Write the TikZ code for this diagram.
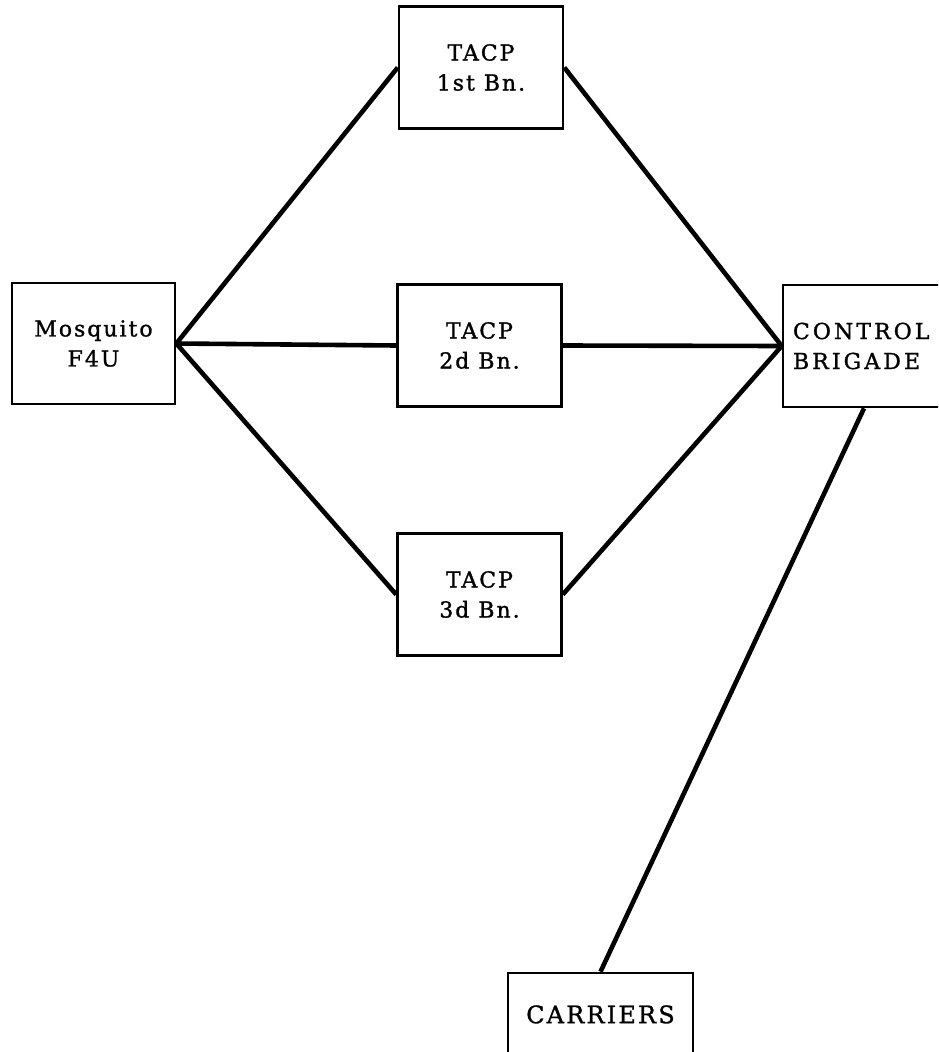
\documentclass[tikz,border=0pt]{standalone}
\usepackage{fontspec}
\setmainfont{DejaVu Serif}
\newfontfamily\boxfont{DejaVu Serif}[LetterSpace=9,FakeBold=1.2]
\newfontfamily\ctrlfont{DejaVu Serif}[LetterSpace=14,FakeBold=1.2]
\newfontfamily\carrfont{DejaVu Serif}[LetterSpace=9,FakeBold=1.2]
\begin{document}
\begin{tikzpicture}[x=1pt,y=-1pt,
  unit/.style={draw, line width=2.6pt, align=center, inner sep=0pt,
    font=\boxfont\fontsize{22}{30}\selectfont},
  tacp/.style={unit, minimum width=164pt, minimum height=122pt},
  link/.style={line width=4.6pt, line join=round}]
\useasboundingbox (0,0) rectangle (938,1052);
\clip (0,0) rectangle (938,1052);
\fill[white] (0,0) rectangle (938,1052);

% origin of the net and the three battalion parties
\node[unit, minimum width=163pt, minimum height=121pt] (mosq) at (93.5,343.5) {Mosquito\\F4U};
\node[tacp] (t1) at (481,67.5) {TACP\\1st Bn.};
\node[tacp] (t2) at (479.5,345.5) {TACP\\2d Bn.};
\node[tacp] (t3) at (479.5,594.5) {TACP\\3d Bn.};

% brigade control, running off the right margin
\node[unit, minimum height=122pt, text width=142pt, inner xsep=10pt, align=left,
      font=\ctrlfont\fontsize{22}{30}\selectfont] (ctrl) at (864,346) {CONTROL\\BRIGADE};

% carriers, running off the bottom margin
\node[unit, minimum width=185pt, minimum height=86pt,
      font=\carrfont\fontsize{24}{30}\selectfont] (carr) at (600.5,1016) {\raisebox{3.5pt}{CARRIERS}};

% connectors
\draw[link] (t1.west) -- (mosq.east) -- (t3.west);
\draw[link] (mosq.east) -- (t2.west);
\draw[link] (t1.east) -- (ctrl.west) -- (t3.east);
\draw[link] (t2.east) -- (ctrl.west);
\draw[link] (ctrl.south) -- (carr.north);
\end{tikzpicture}
\end{document}
